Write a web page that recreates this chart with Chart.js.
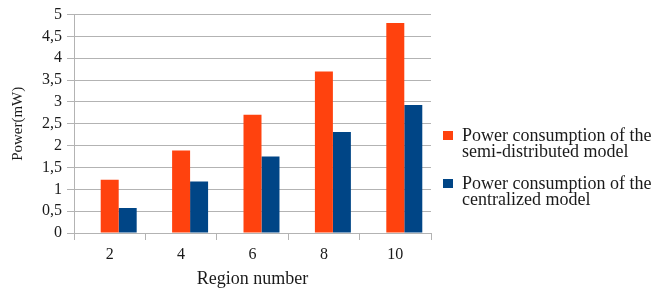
<!DOCTYPE html>
<html>
<head>
<meta charset="utf-8">
<script src="https://cdn.jsdelivr.net/npm/chart.js@4/dist/chart.umd.min.js"></script>
<style>
	html, body { margin: 0; padding: 0; background: #fff; }
	#wrap { width: 663px; height: 291px; position: relative; }
</style>
</head>
<body>
<div id="wrap"><canvas id="chart"></canvas></div>
<script>
'use strict'

const regions = ['2', '4', '6', '8', '10'];
const semiDistributed = [1.22, 1.89, 2.71, 3.70, 4.81];
const centralized = [0.57, 1.18, 1.75, 2.31, 2.93];
const spacer = [null, null, null, null, null];
const seriesNames = [
	['Power consumption of the', 'semi-distributed model'],
	['Power consumption of the', 'centralized model'],
];
const yTicks = [0, 0.5, 1, 1.5, 2, 2.5, 3, 3.5, 4, 4.5, 5];

const colors = {
	orange: '#ff420e',
	blue: '#004586',
	grid: '#b3b3b3',
	text: '#1a1a1a',
};
const serif = 'Liberation Serif';

// legend drawn on the right, two lines per entry
const sideLegend = {
	id: 'sideLegend',
	afterDraw(chart) {
		const ctx = chart.ctx;
		const entries = [
			{ color: colors.orange, lines: seriesNames[0], y: 136 },
			{ color: colors.blue, lines: seriesNames[1], y: 184 },
		];
		ctx.save();
		ctx.font = '18px "' + serif + '"';
		ctx.textBaseline = 'middle';
		entries.forEach((e) => {
			ctx.fillStyle = e.color;
			ctx.fillRect(443, e.y - 5, 10, 9);
			ctx.fillStyle = colors.text;
			e.lines.forEach((line, i) => {
				ctx.fillText(line, 462, e.y + i * 16);
			});
		});
		ctx.restore();
	},
};

new Chart(document.getElementById('chart'), {
	type: 'bar',
	data: {
		labels: regions,
		datasets: [
			{ label: '', data: spacer, backgroundColor: 'transparent' },
			{ label: seriesNames[0].join(' '), data: semiDistributed, backgroundColor: colors.orange },
			{ label: seriesNames[1].join(' '), data: centralized, backgroundColor: colors.blue },
		],
	},
	options: {
		responsive: true,
		maintainAspectRatio: false,
		animation: false,
		datasets: {
			bar: {
				barPercentage: 1,
				categoryPercentage: 0.756,
			},
		},
		layout: {
			padding: { left: 0, right: 232, top: 12, bottom: 0 },
		},
		plugins: {
			legend: { display: false },
			tooltip: { enabled: false },
		},
		scales: {
			x: {
				offset: true,
				afterFit: (s) => { s.height = 58; },
				grid: {
					offset: true,
					color: (c) => c.index === regions.length ? colors.grid : 'rgba(0,0,0,0)',
					tickColor: colors.grid,
					tickLength: 7,
				},
				border: { color: colors.grid },
				ticks: {
					color: colors.text,
					padding: 5,
					autoSkip: false,
					maxRotation: 0,
					font: { family: serif, size: 16 },
				},
				title: {
					display: true,
					text: 'Region number',
					color: colors.text,
					font: { family: serif, size: 18 },
					padding: { top: 0, bottom: 1 },
				},
			},
			y: {
				min: 0,
				max: 5,
				afterFit: (s) => { s.width = 74; },
				afterBuildTicks: (s) => { s.ticks = yTicks.map((v) => ({ value: v })); },
				grid: {
					color: colors.grid,
					tickColor: colors.grid,
					tickLength: 7,
				},
				border: { color: colors.grid },
				ticks: {
					color: colors.text,
					padding: 5,
					autoSkip: false,
					font: { family: serif, size: 16 },
					callback: (v) => String(v).replace('.', ','),
				},
				title: {
					display: true,
					text: 'Power(mW)',
					color: colors.text,
					font: { family: serif, size: 15 },
					padding: { top: 9, bottom: 0 },
				},
			},
		},
	},
	plugins: [sideLegend],
});
</script>
</body>
</html>
